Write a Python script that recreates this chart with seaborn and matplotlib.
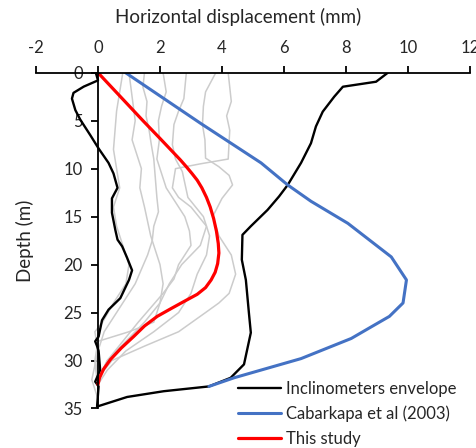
import numpy as np
import pandas as pd
import matplotlib
matplotlib.use("Agg")
import matplotlib.pyplot as plt
import seaborn as sns

# ---------------- data ----------------
# Inclinometers envelope (closed outline: min side top->bottom, then max side bottom->top)
env_x = [-0.07, 0.0, -0.46, -0.79, -0.84, -0.73, -0.57, -0.25, 0.02, 0.34, 0.50, 0.63, 0.45, 0.45,
         0.56, 0.63, 0.78, 0.94, 1.10, 1.00, 0.72, 0.34, 0.13, 0.02, -0.09, -0.03, 0.02, 0.07, -0.09,
         0.02, -0.03,
         0.94, 2.12, 3.58, 4.28, 4.71, 4.93, 4.87, 4.77, 4.64, 4.66, 4.93, 5.47, 5.84, 6.12, 6.55,
         6.87, 7.03, 7.25, 7.62, 7.90, 8.97, 9.35]
env_d = [0.0, 0.8, 1.45, 2.1, 2.7, 3.9, 4.9, 6.5, 7.9, 9.4, 10.5, 12.0, 13.1, 14.6,
         16.4, 17.4, 18.1, 19.3, 20.6, 21.6, 23.5, 24.7, 25.8, 27.5, 28.0, 28.5, 29.0, 31.0, 32.2,
         32.7, 34.8,
         33.8, 33.2, 32.7, 31.8, 30.4, 27.1, 25.1, 21.6, 19.5, 16.9, 16.0, 14.3, 12.9, 11.7, 9.4,
         7.35, 5.6, 4.06, 2.5, 1.46, 0.94, 0.0]

# Cabarkapa et al (2003)
cab_x = [0.89, 3.32, 5.26, 6.12, 6.87, 8.06, 9.46, 9.95, 9.84, 9.40, 8.81, 8.17, 6.55, 5.47, 4.39, 3.58]
cab_d = [0.0, 5.3, 9.4, 11.7, 13.4, 15.7, 19.2, 21.6, 24.0, 25.4, 26.5, 27.7, 29.8, 30.8, 31.8, 32.7]

# This study
red_x = [0.0, 1.45, 2.0, 2.66, 2.85, 3.03, 3.20, 3.35, 3.50, 3.62, 3.73, 3.82, 3.88, 3.90, 3.86,
         3.78, 3.65, 3.47, 3.20, 2.80, 2.35, 1.91, 1.50, 1.15, 0.75, 0.40, 0.18, 0.05, 0.0]
red_d = [0.0, 5.0, 6.85, 9.1, 9.8, 10.5, 11.2, 12.0, 13.0, 14.0, 15.2, 16.5, 17.8, 18.8, 19.9,
         20.8, 21.6, 22.4, 23.1, 23.8, 24.6, 25.4, 26.4, 27.5, 28.7, 29.9, 30.9, 31.8, 32.5]

# Individual inclinometer profiles (grey)
g1_x = [1.5, 1.45, 1.58, 1.55, 1.65, 1.72, 1.8, 1.85, 1.9, 1.95, 1.8, 1.75, 1.6, 1.4, 1.2, 0.9, 0.6, 0.2, 0.0, -0.05, 0.0]
g1_d = [0, 1.5, 3, 4.5, 6, 7.5, 9, 11, 13, 14.5, 16, 17.5, 19, 20.5, 22, 23.5, 25, 27, 29, 31, 33]
g2_x = [2.1, 2.2, 2.05, 1.95, 1.98, 1.9, 2.05, 2.2, 2.5, 2.8, 2.95, 3.0, 2.8, 2.6, 2.45, 2.1, 1.7, 1.3, 0.8, 0.3, 0.0]
g2_d = [0, 2, 3.5, 5, 7, 9, 10.5, 12, 13.5, 15, 16.5, 18, 19, 20, 21.5, 23, 24.5, 26, 28, 30, 32]
g3_x = [2.85, 2.77, 2.6, 2.45, 2.4, 2.5, 2.72, 2.8, 2.9, 3.4, 3.6, 3.5, 3.2, 3.0, 2.6, 2.2, 1.8, 0.9, 0.3, 0.0]
g3_d = [0, 2.7, 4.0, 5.4, 7.5, 9.0, 10.3, 11.5, 13, 15, 17, 19, 21, 23, 25, 26, 27, 29, 31, 32.5]
g4_x = [3.8, 3.47, 3.4, 3.37, 3.45, 3.47, 3.9, 4.23, 4.34, 4.0, 3.7, 3.9, 4.3, 4.44, 4.23, 3.9, 3.47, 2.6, 1.5, 0.45, 0.0]
g4_d = [0, 2, 3.5, 5.4, 7.0, 8.9, 9.8, 10.7, 11.7, 13.1, 15, 17, 19, 21, 23, 24, 25, 27, 28.5, 30, 31.8]
g5_x = [4.2, 4.3, 4.15, 4.25, 4.2, 3.3, 2.5, 2.4, 2.6, 3.0, 3.5, 3.3, 2.7, 2.3, 2.0, 1.5, 0.9, 0.3, 0.0]
g5_d = [0, 3, 4.5, 6, 9, 9.5, 10, 12, 13, 14, 16, 18, 20, 22, 24, 26, 28, 30, 32]
g6_x = [0.8, 0.6, 0.5, 0.6, 0.7, 0.5, 0.6, 0.8, 1.0, 0.9, 0.5, 0.15, -0.1, 0.0, -0.2, 0.0]
g6_d = [0, 4, 8, 10, 12, 14, 16, 18, 20, 22, 24, 26, 27, 29, 32, 34]
g7_x = [1.0, 1.2, 1.1, 1.4, 1.35, 1.5, 1.7, 2.0, 2.1, 2.0, 1.8, 1.0, 0.0, -0.1, 0.0]
g7_d = [0, 5, 7, 10, 12, 14, 17, 20, 22, 24, 26, 27, 28, 30, 33]

x_ticks = [-2, 0, 2, 4, 6, 8, 10, 12]
y_ticks = [0, 5, 10, 15, 20, 25, 30, 35]

# ---------------- plot ----------------
sns.set_style("white")
plt.rcParams["font.family"] = ["Lato", "DejaVu Sans"]

fig = plt.figure(figsize=(4.76, 4.48), dpi=100)
ax = fig.add_axes([0.0756, 0.0882, 0.9118, 0.7495])

greys = [(g1_x, g1_d), (g2_x, g2_d), (g3_x, g3_d), (g4_x, g4_d),
         (g5_x, g5_d), (g6_x, g6_d), (g7_x, g7_d)]
for gx, gd in greys:
    sns.lineplot(x=gx, y=gd, sort=False, estimator=None, color="#cccccc",
                 linewidth=1.1, ax=ax, legend=False)

sns.lineplot(x=env_x, y=env_d, sort=False, estimator=None, color="black",
             linewidth=1.7, ax=ax, label="Inclinometers envelope")
sns.lineplot(x=cab_x, y=cab_d, sort=False, estimator=None, color="#4472C4",
             linewidth=2.2, ax=ax, label="Cabarkapa et al (2003)")
sns.lineplot(x=red_x, y=red_d, sort=False, estimator=None, color="#FF0000",
             linewidth=2.3, ax=ax, label="This study")

ax.set_xlim(-2, 12)
ax.set_ylim(35, 0)
ax.set_xticks(x_ticks)
ax.set_xticklabels([str(v) for v in x_ticks])
ax.set_yticks(y_ticks)
ax.set_yticklabels([str(v) for v in y_ticks])

ax.xaxis.tick_top()
ax.xaxis.set_label_position("top")
ax.spines["bottom"].set_visible(False)
ax.spines["right"].set_visible(False)
ax.spines["left"].set_position(("data", 0))
for s in ("top", "left"):
    ax.spines[s].set_color("black")
    ax.spines[s].set_linewidth(1.3)
ax.tick_params(axis="x", direction="out", length=5, width=1.3, pad=7,
               labelsize=12, colors="black", top=True, bottom=False)
ax.tick_params(axis="y", direction="out", length=5, width=1.3, pad=6,
               labelsize=12, colors="black", left=True)
for lab in ax.get_xticklabels() + ax.get_yticklabels():
    lab.set_color("#262626")

ax.set_xlabel("Horizontal displacement (mm)", fontsize=13.5, color="#262626")
ax.xaxis.set_label_coords(0.465, 1.166)
ax.xaxis.label.set_va("center")
ax.set_ylabel("Depth (m)", fontsize=13.5, color="#262626")
ax.yaxis.set_label_coords(-0.025, 0.5)
ax.yaxis.label.set_va("center")

handles, labels = ax.get_legend_handles_labels()
ax.legend(handles, labels, loc="upper left", bbox_to_anchor=(238 / 476, 1 - 381 / 448),
          bbox_transform=fig.transFigure, frameon=False, fontsize=12,
          handlelength=2.6, handletextpad=0.3, labelspacing=0.52,
          borderpad=0, borderaxespad=0)

fig.savefig("out.png", dpi=100)
